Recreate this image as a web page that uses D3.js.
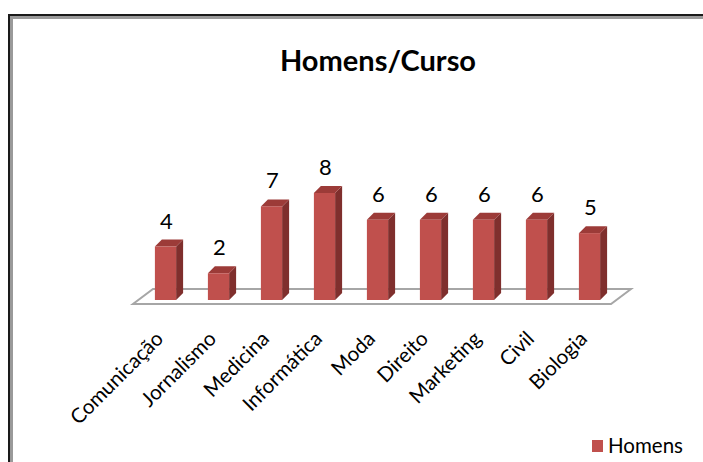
<!DOCTYPE html>
<html>
<head>
<meta charset="utf-8">
<script src="https://cdn.jsdelivr.net/npm/d3@7"></script>
<style>
  body { margin: 0; background: #fff; }
  svg { display: block; font-family: Lato, "Open Sans", sans-serif; }
</style>
</head>
<body>
<div id="chart"></div>
<script>
const categories = ["Comunicação", "Jornalismo", "Medicina", "Informática", "Moda", "Direito", "Marketing", "Civil", "Biologia"];
const homens = [4, 2, 7, 8, 6, 6, 6, 6, 5];
const seriesName = "Homens";
const title = "Homens/Curso";

const width = 703;
const height = 462;
const depthX = 7, depthY = -7;

const svg = d3.select("#chart")
  .append("svg")
  .attr("width", width)
  .attr("height", height)
  .attr("viewBox", [0, 0, width, height]);

// outer frame (cut off at right and bottom)
svg.append("path")
  .attr("d", "M9,470 V15 H710")
  .attr("fill", "none")
  .attr("stroke", "#1a1a1a")
  .attr("stroke-width", 2);
svg.append("path")
  .attr("d", "M11.5,470 V17.5 H710")
  .attr("fill", "none")
  .attr("stroke", "#9a9a9a")
  .attr("stroke-width", 3);

// title
svg.append("text")
  .attr("x", 378)
  .attr("y", 71)
  .attr("text-anchor", "middle")
  .attr("font-size", 29)
  .attr("font-weight", "bold")
  .attr("fill", "#000")
  .text(title);

// scales
const x = d3.scaleBand()
  .domain(categories)
  .range([139, 616])
  .paddingInner(0.6)
  .paddingOuter(0.3);

const y = d3.scaleLinear()
  .domain([0, 8])
  .range([300, 193]);

// floor
const floorFront = 304, floorBack = 289;
svg.append("path")
  .attr("d", `M${x.range()[0] - 6},${floorFront} L${x.range()[1] - 5},${floorFront} L${x.range()[1] + 15},${floorBack} L${x.range()[0] + 14},${floorBack} Z`)
  .attr("fill", "#fff")
  .attr("stroke", "#a6a6a6")
  .attr("stroke-width", 2);

// bars
const g = svg.append("g");
const bars = g.selectAll("g.bar")
  .data(categories.map((c, i) => ({ c, v: homens[i] })))
  .join("g")
  .attr("class", "bar");

// side face
bars.append("path")
  .attr("d", d => {
    const x1 = x(d.c) + x.bandwidth();
    return `M${x1},${y(0)} L${x1},${y(d.v)} L${x1 + depthX},${y(d.v) + depthY} L${x1 + depthX},${y(0) + depthY} Z`;
  })
  .attr("fill", "#7f2f2d");

// top face
bars.append("path")
  .attr("d", d => {
    const x0 = x(d.c), x1 = x0 + x.bandwidth(), yt = y(d.v);
    return `M${x0},${yt} L${x1},${yt} L${x1 + depthX},${yt + depthY} L${x0 + depthX},${yt + depthY} Z`;
  })
  .attr("fill", "#9c3b38");

// front face
bars.append("rect")
  .attr("x", d => x(d.c))
  .attr("y", d => y(d.v))
  .attr("width", x.bandwidth())
  .attr("height", d => y(0) - y(d.v))
  .attr("fill", "#c0504d");

// value labels
bars.append("text")
  .attr("x", d => x(d.c) + x.bandwidth() / 2 + 1)
  .attr("y", d => y(d.v) + depthY - 11)
  .attr("text-anchor", "middle")
  .attr("font-size", 22)
  .attr("fill", "#000")
  .text(d => d.v);

// category labels
svg.append("g")
  .selectAll("text")
  .data(categories)
  .join("text")
  .attr("transform", d => `translate(${x(d) + x.bandwidth() / 2 - 1},${340}) rotate(-45)`)
  .attr("text-anchor", "end")
  .attr("font-size", 20.5)
  .attr("fill", "#000")
  .text(d => d);

// legend
svg.append("rect")
  .attr("x", 592)
  .attr("y", 440)
  .attr("width", 11)
  .attr("height", 12)
  .attr("fill", "#c0504d");
svg.append("text")
  .attr("x", 608)
  .attr("y", 453)
  .attr("font-size", 20.5)
  .attr("fill", "#000")
  .text(seriesName);
</script>
</body>
</html>
